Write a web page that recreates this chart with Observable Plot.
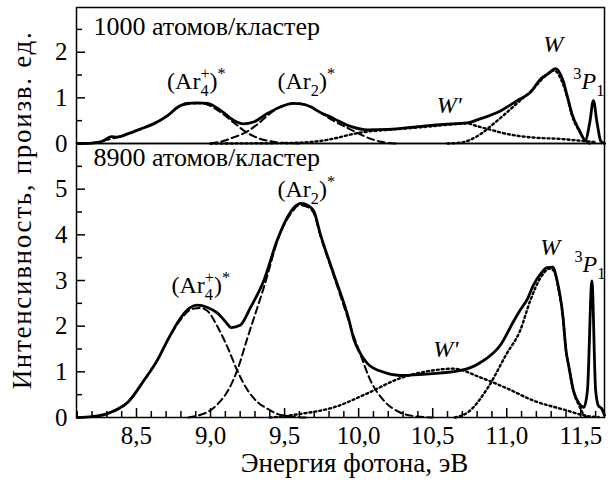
<!DOCTYPE html>
<html><head><meta charset="utf-8">
<script src="https://cdn.jsdelivr.net/npm/d3@7"></script>
<script src="https://cdn.jsdelivr.net/npm/@observablehq/plot@0.6"></script>
<style>
html,body{margin:0;padding:0;background:#fff;}
#chart{position:relative;width:609px;height:481px;background:#fff;font-family:"Liberation Serif","Times New Roman",Times,serif;color:#000;}
#chart svg{display:block;}
#ylab{position:absolute;left:22px;top:210px;transform:translate(-50%,-50%) rotate(-90deg);white-space:nowrap;font-size:27px;letter-spacing:1.7px;line-height:1;}
</style></head><body><div id="chart"><div id="ylab">Интенсивность, произв. ед.</div></div>
<script>
// ---------- data ----------
const panelTitles = ["1000 атомов/кластер", "8900 атомов/кластер"];
const xLabel = "Энергия фотона, эВ";
const xMajorTicks = [8.5, 9.0, 9.5, 10.0, 10.5, 11.0, 11.5];
const xMinorTicks = [8.1, 8.2, 8.3, 8.4, 8.6, 8.7, 8.8, 8.9, 9.1, 9.2, 9.3, 9.4, 9.6, 9.7, 9.8, 9.9, 10.1, 10.2, 10.3, 10.4, 10.6, 10.7, 10.8, 10.9, 11.1, 11.2, 11.3, 11.4, 11.6];
const yTopMajor = [0, 1, 2];
const yTopMinor = [0.5, 1.5, 2.5];
const yBotMajor = [0, 1, 2, 3, 4, 5];
const yBotMinor = [0.5, 1.5, 2.5, 3.5, 4.5, 5.5];

// top panel (1000 atoms/cluster)
const topSolid = [[8.10,0.0],[8.20,0.01],[8.27,0.05],[8.33,0.15],[8.37,0.14],[8.44,0.21],[8.53,0.32],[8.615,0.43],[8.71,0.61],[8.78,0.80],[8.84,0.88],[8.91,0.89],[8.98,0.88],[9.07,0.72],[9.16,0.50],[9.22,0.43],[9.29,0.47],[9.38,0.65],[9.47,0.80],[9.56,0.88],[9.61,0.87],[9.68,0.80],[9.72,0.72],[9.83,0.55],[9.95,0.37],[10.06,0.30],[10.2,0.31],[10.4,0.37],[10.57,0.42],[10.73,0.45],[10.82,0.54],[10.96,0.72],[11.07,0.94],[11.16,1.12],[11.23,1.42],[11.28,1.53],[11.33,1.64],[11.38,1.38],[11.41,1.02],[11.44,0.65],[11.49,0.29],[11.53,0.07],[11.56,0.45],[11.585,0.94],[11.61,0.45],[11.635,0.05],[11.66,0.0]];
const topAr4 = [[8.20,0.01],[8.30,0.08],[8.44,0.21],[8.53,0.32],[8.615,0.43],[8.71,0.61],[8.78,0.79],[8.84,0.86],[8.92,0.88],[8.98,0.85],[9.07,0.68],[9.16,0.45],[9.24,0.25],[9.32,0.12],[9.40,0.05],[9.50,0.01],[9.60,0.0]];
const topAr2 = [[9.00,0.0],[9.08,0.05],[9.16,0.14],[9.24,0.25],[9.32,0.43],[9.38,0.60],[9.47,0.80],[9.56,0.88],[9.61,0.87],[9.68,0.80],[9.72,0.72],[9.83,0.50],[9.95,0.30],[10.06,0.13],[10.15,0.04],[10.25,0.0]];
const topWp = [[9.0,0.0],[9.5,0.01],[9.7,0.04],[9.85,0.12],[9.95,0.20],[10.06,0.26],[10.2,0.30],[10.4,0.35],[10.57,0.40],[10.73,0.44],[10.8,0.38],[10.87,0.32],[11.0,0.21],[11.18,0.13],[11.36,0.10],[11.5,0.06],[11.6,0.03]];
const topW = [[10.6,0.0],[10.69,0.02],[10.82,0.20],[10.91,0.43],[11.0,0.68],[11.09,0.94],[11.18,1.20],[11.25,1.45],[11.32,1.60],[11.38,1.30],[11.41,1.00],[11.44,0.62],[11.49,0.27],[11.53,0.07],[11.56,0.0]];

// bottom panel (8900 atoms/cluster)
const botSolid = [[8.10,0.0],[8.20,0.02],[8.30,0.08],[8.37,0.18],[8.44,0.33],[8.55,0.81],[8.64,1.25],[8.71,1.69],[8.80,2.19],[8.86,2.40],[8.91,2.46],[8.98,2.41],[9.05,2.28],[9.10,2.10],[9.14,1.97],[9.20,2.02],[9.27,2.41],[9.36,3.0],[9.45,3.88],[9.52,4.39],[9.57,4.62],[9.61,4.69],[9.66,4.64],[9.70,4.50],[9.74,4.03],[9.83,3.16],[9.93,2.19],[9.97,1.69],[10.0,1.47],[10.06,1.18],[10.17,0.99],[10.28,0.92],[10.5,0.96],[10.69,1.03],[10.82,1.20],[10.96,1.60],[11.05,2.13],[11.09,2.35],[11.14,2.60],[11.18,2.90],[11.23,3.15],[11.27,3.28],[11.31,3.29],[11.34,3.0],[11.38,2.19],[11.40,1.47],[11.42,1.10],[11.45,0.59],[11.49,0.30],[11.52,0.22],[11.545,0.6],[11.575,2.99],[11.60,0.6],[11.62,0.25],[11.64,0.20],[11.66,0.05]];
const botAr4 = [[8.20,0.02],[8.30,0.08],[8.44,0.33],[8.55,0.81],[8.64,1.25],[8.71,1.69],[8.80,2.15],[8.87,2.37],[8.93,2.40],[8.98,2.33],[9.05,1.97],[9.12,1.50],[9.18,1.03],[9.25,0.60],[9.32,0.33],[9.38,0.20],[9.45,0.08],[9.55,0.02],[9.65,0.0]];
const botAr2 = [[8.85,0.0],[8.91,0.04],[8.98,0.12],[9.05,0.30],[9.12,0.60],[9.18,1.03],[9.25,1.75],[9.36,2.85],[9.47,4.03],[9.55,4.50],[9.60,4.65],[9.66,4.60],[9.70,4.45],[9.74,4.0],[9.83,3.12],[9.93,2.15],[9.97,1.75],[10.01,1.40],[10.08,0.81],[10.17,0.37],[10.28,0.11],[10.4,0.02],[10.5,0.0]];
const botWp = [[9.4,0.0],[9.5,0.03],[9.61,0.08],[9.83,0.22],[10.06,0.53],[10.28,0.86],[10.5,1.03],[10.64,1.07],[10.82,0.88],[11.0,0.64],[11.18,0.37],[11.41,0.15],[11.48,0.08],[11.55,0.03],[11.62,0.01]];
const botW = [[10.65,0.0],[10.74,0.12],[10.87,0.64],[11.0,1.40],[11.09,1.90],[11.16,2.57],[11.23,3.07],[11.29,3.26],[11.32,3.20],[11.35,2.80],[11.38,2.19],[11.40,1.47],[11.42,1.10],[11.45,0.59],[11.49,0.25],[11.52,0.06],[11.55,0.0]];

// annotation labels (markup: _x subscript, ^x superscript)
const annText = ["(Ar_4^+)^*", "(Ar_2)^*", "W'", "W", "^3P_1"];
const annTopX = [8.71, 9.455, 10.53, 11.25, 11.453];
const annTopY = [1.18, 1.18, 0.66, 2.0, 1.18];
const annBotX = [8.74, 9.455, 10.507, 11.23, 11.46];
const annBotY = [2.72, 4.82, 1.32, 3.55, 3.18];

// ---------- drawing ----------
const FONT = '"Liberation Serif","Times New Roman",Times,serif';
const xDomain = [8.095, 11.66];
const fmt = d => d.toFixed(1).replace(".", ",");

function parseMarkup(s) {
  const segs = [];
  let i = 0;
  while (i < s.length) {
    let c = s[i], kind = "n";
    if ((c === "_" || c === "^") && i + 1 < s.length) { kind = c === "_" ? "sub" : "sup"; c = s[i + 1]; i += 2; }
    else i += 1;
    const italic = "WP'".includes(c);
    const last = segs[segs.length - 1];
    if (kind === "n" && last && last.kind === "n" && last.italic === italic) last.t += c;
    else segs.push({t: c, kind, italic, stack: kind === "sup" && last && last.kind === "sub" ? last.t : null});
  }
  return segs;
}
function richLabels(xs, ys, texts, size) {
  return (index, scales) => {
    const g = d3.create("svg:g").attr("font-family", FONT).attr("font-size", size).attr("fill", "black");
    texts.forEach((s, i) => {
      const t = g.append("text").attr("x", scales.x(xs[i])).attr("y", scales.y(ys[i])).attr("text-anchor", "start");
      let shift = 0;
      for (const seg of parseMarkup(s)) {
        const small = seg.kind !== "n";
        const target = seg.kind === "sub" ? 0.3 * size : seg.kind === "sup" ? -0.42 * size : 0;
        const sp = t.append("tspan").attr("font-size", small ? 0.68 * size : size).attr("dy", target - shift).text(seg.t);
        if (seg.italic) sp.attr("font-style", "italic");
        if (seg.stack) sp.attr("dx", -0.5 * 0.68 * size * seg.stack.length);
        shift = target;
      }
    });
    return g.node();
  };
}
const lineOpts = {x: d => d[0], y: d => d[1], stroke: "black", curve: "monotone-x"};
function curves(solid, ar4, ar2, wp, w) {
  return [
    Plot.line(ar4, {...lineOpts, strokeWidth: 2, strokeDasharray: "7,4"}),
    Plot.line(ar2, {...lineOpts, strokeWidth: 2, strokeDasharray: "7,4"}),
    Plot.line(wp, {...lineOpts, strokeWidth: 2.4, strokeDasharray: "2,3"}),
    Plot.line(w, {...lineOpts, strokeWidth: 2.4, strokeDasharray: "2,3"}),
    Plot.line(solid, {...lineOpts, strokeWidth: 2.8})
  ];
}
const style = {fontFamily: FONT, fontSize: "25px", color: "black", background: "none", overflow: "visible"};

const topPlot = Plot.plot({
  width: 609, height: 143, marginLeft: 76, marginRight: 5, marginTop: 7, marginBottom: 0,
  style,
  x: {domain: xDomain, axis: null},
  y: {domain: [0, 2.98], axis: null},
  marks: [
    ...curves(topSolid, topAr4, topAr2, topWp, topW),
    Plot.axisY(yTopMajor, {anchor: "left", tickSize: -9, tickPadding: 18, strokeWidth: 1.5, tickFormat: d => String(d), fontSize: 25, label: null}),
    Plot.axisY(yTopMinor, {anchor: "left", tickSize: -6, strokeWidth: 1.5, tickFormat: () => "", label: null}),
    Plot.frame({strokeWidth: 1.5}),
    Plot.text([panelTitles[0]], {text: d => d, frameAnchor: "top-left", dx: 17, dy: 9, textAnchor: "start", lineAnchor: "top", fontSize: 26}),
    richLabels(annTopX, annTopY, annText, 24)
  ]
});

const botPlot = Plot.plot({
  width: 609, height: 338, marginLeft: 76, marginRight: 5, marginTop: 0, marginBottom: 64,
  style,
  x: {domain: xDomain},
  y: {domain: [0, 6]},
  marks: [
    ...curves(botSolid, botAr4, botAr2, botWp, botW),
    Plot.axisY(yBotMajor, {anchor: "left", tickSize: -9, tickPadding: 18, strokeWidth: 1.5, tickFormat: d => String(d), fontSize: 25, label: null}),
    Plot.axisY(yBotMinor, {anchor: "left", tickSize: -6, strokeWidth: 1.5, tickFormat: () => "", label: null}),
    Plot.axisX(xMajorTicks, {anchor: "bottom", tickSize: -9, tickPadding: 18, strokeWidth: 1.5, tickFormat: fmt, fontSize: 25, label: null}),
    Plot.axisX(xMinorTicks, {anchor: "bottom", tickSize: -6, strokeWidth: 1.5, tickFormat: () => "", label: null}),
    Plot.frame({strokeWidth: 1.5}),
    Plot.text([panelTitles[1]], {text: d => d, frameAnchor: "top-left", dx: 17, dy: 4, textAnchor: "start", lineAnchor: "top", fontSize: 26}),
    Plot.text([xLabel], {text: d => d, frameAnchor: "bottom", dx: 14, dy: 35, textAnchor: "middle", lineAnchor: "top", fontSize: 27}),
    richLabels(annBotX, annBotY, annText, 24)
  ]
});

const chart = document.getElementById("chart");
chart.appendChild(topPlot);
chart.appendChild(botPlot);
</script></body></html>
